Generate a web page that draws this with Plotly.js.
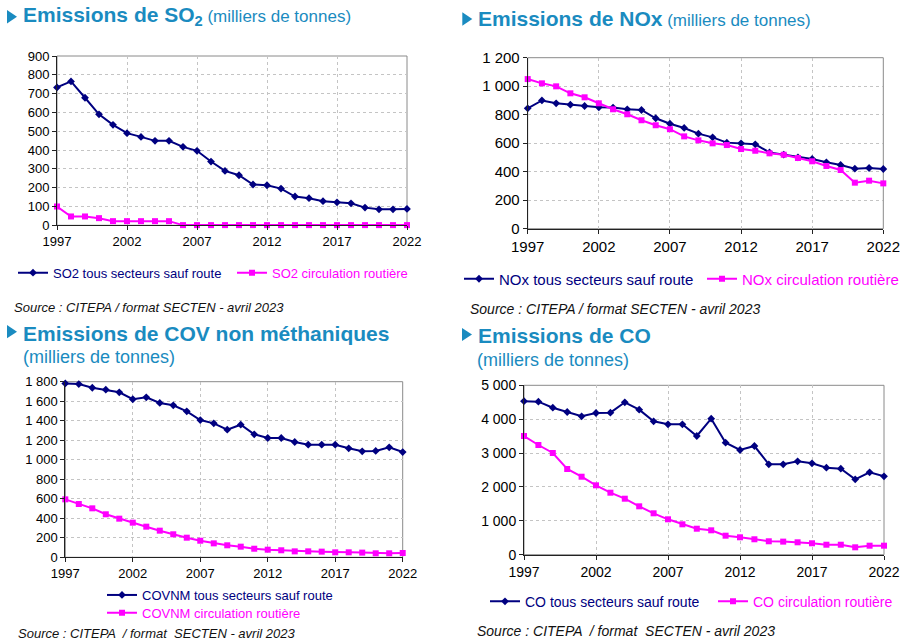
<!DOCTYPE html>
<html>
<head>
<meta charset="utf-8">
<script src="https://cdn.plot.ly/plotly-3.0.1.min.js"></script>
<style>html,body{margin:0;padding:0;background:#fff;}#chart{width:915px;height:643px;}</style>
</head>
<body>
<div id="chart"></div>
<script>
const years = [1997,1998,1999,2000,2001,2002,2003,2004,2005,2006,2007,2008,2009,2010,2011,2012,2013,2014,2015,2016,2017,2018,2019,2020,2021,2022];

const so2Other = [733,765,678,590,534,490,470,449,449,417,396,339,289,266,217,213,195,153,144,128,122,117,94,85,85,87];
const so2Road  = [100,47,47,38,22,22,22,22,22,1,1,1,1,1,1,1,1,1,1,1,1,1,1,1,1,1];

const noxOther = [845,900,880,870,861,852,850,838,833,775,737,707,667,641,604,599,592,535,520,501,489,466,447,421,426,419];
const noxRoad  = [1050,1020,999,950,922,880,838,803,761,726,698,648,620,599,587,559,547,529,519,496,473,440,412,323,337,318];

const covOther = [1782,1776,1738,1718,1691,1620,1640,1582,1558,1496,1407,1373,1308,1359,1261,1223,1223,1182,1154,1154,1154,1117,1086,1090,1127,1079];
const covRoad  = [594,546,502,441,396,355,314,273,236,201,170,143,123,109,88,78,72,61,61,58,51,51,48,41,41,44];

const coOther = [4530,4516,4339,4212,4085,4182,4192,4498,4280,3937,3849,3849,3504,4014,3306,3090,3208,2668,2668,2757,2698,2568,2538,2225,2432,2314];
const coRoad  = [3503,3238,3002,2530,2302,2048,1830,1653,1428,1222,1045,897,767,720,561,514,455,396,386,366,337,295,295,218,266,266];

const seriesNames = [
  ["SO2 tous secteurs sauf route","SO2 circulation routière"],
  ["NOx tous secteurs sauf route","NOx circulation routière"],
  ["COVNM tous secteurs sauf route","COVNM circulation routière"],
  ["CO tous secteurs sauf route","CO circulation routière"]
];
const yRanges = [[0,900],[0,1200],[0,1800],[0,5000]];
const yDticks = [100,200,200,1000];
const titles = ["Emissions de SO<sub>2</sub>","Emissions de NOx","Emissions de COV non méthaniques","Emissions de CO"];
const subtitle = "(milliers de tonnes)";
const sourceTexts = ["Source : CITEPA / format SECTEN - avril 2023","Source : CITEPA / format SECTEN - avril 2023","Source : CITEPA \u00a0/ format \u00a0SECTEN - avril 2023","Source : CITEPA \u00a0/ format \u00a0SECTEN - avril 2023"];

const W = 915, H = 643;
const px = v => v / W;
const py = v => 1 - v / H;

const NAVY = "#000080", MAG = "#ff00ff", TITLE = "#1a8bc0";
const FONT = "Arial, 'Liberation Sans', sans-serif";

// plot boxes in pixels [x0, x1, yTop, yBottom]
const boxes = [[57,407,56,225.3],[527.7,883.3,57.7,228.7],[65.3,402.7,381.7,557.3],[524,884,385.3,554.7]];
const fontSizes = [13,15,13,14];

const data = [];
const layout = {
  width: W, height: H, margin:{l:0,r:0,t:0,b:0},
  paper_bgcolor:"#fff", plot_bgcolor:"#fff",
  separators:", ",
  font:{family:FONT, color:"#000"},
  showlegend:true,
  shapes:[], annotations:[]
};

const seriesData = [[so2Other,so2Road],[noxOther,noxRoad],[covOther,covRoad],[coOther,coRoad]];

// legend positions [x, y] pixel (line start, center y)
const legendPos = [
  [[13,272.7],[232,272.7]],
  [[459,279],[702,279]],
  [[102,595],[102,612.7]],
  [[485,601.7],[713,601.7]]
];

for (let i=0;i<4;i++){
  const ax = i===0 ? "" : String(i+1);
  const b = boxes[i];
  const fs = fontSizes[i];
  layout["xaxis"+ax] = {
    domain:[px(b[0]),px(b[1])], anchor:"y"+ax,
    range:[1997,2022], tick0:1997, dtick:5, tickmode:"linear",
    showgrid:true, gridcolor:"#c4c4c4", griddash:"dot", gridwidth:1,
    showline:true, linecolor:"#222", linewidth:1,
    ticks:"outside", ticklen:4, tickcolor:"#222",
    zeroline:false, fixedrange:true,
    tickfont:{size:fs, family:FONT, color:"#000"}
  };
  layout["yaxis"+ax] = {
    domain:[py(b[3]),py(b[2])], anchor:"x"+ax,
    range:yRanges[i], dtick:yDticks[i], tick0:0, tickmode:"linear",
    separatethousands:true,
    showgrid:true, gridcolor:"#c4c4c4", griddash:"dot", gridwidth:1,
    showline:true, linecolor:"#222", linewidth:1,
    ticks:"outside", ticklen:4, tickcolor:"#222",
    zeroline:false, fixedrange:true,
    tickfont:{size:fs, family:FONT, color:"#000"}
  };
  // frame top/right
  layout.shapes.push({type:"rect", xref:"x"+ax+" domain", yref:"y"+ax+" domain", x0:0,x1:1,y0:0,y1:1, line:{color:"#8a8a8a", width:1}, layer:"below"});

  const colors=[NAVY,MAG], symbols=["diamond","square"], sizes=[6,6];
  for (let s=0;s<2;s++){
    const lg = "legend" + ((i*2+s)===0 ? "" : String(i*2+s+1));
    data.push({
      type:"scatter", mode:"lines+markers",
      x:years, y:seriesData[i][s], name:seriesNames[i][s],
      xaxis:"x"+ax, yaxis:"y"+ax, legend:lg, cliponaxis:false,
      line:{color:colors[s], width:2},
      marker:{color:colors[s], symbol:symbols[s], size:sizes[s]},
      hoverinfo:"x+y"
    });
    const lp = legendPos[i][s];
    layout[lg] = {
      x:px(lp[0]), y:py(lp[1]), xanchor:"left", yanchor:"middle",
      orientation:"h", bgcolor:"rgba(0,0,0,0)", borderwidth:0,
      font:{size:fs, family:FONT, color: s===0 ? NAVY : MAG},
      itemclick:false, itemdoubleclick:false
    };
  }
}

// titles
const titlePos = [[21,15.5],[476,19],[21,333],[476,335]];
const subPos = [null,null,[21,356.5],[475,359.5]];
const triPos = [[7,10,23.5],[462.3,12.3,25.7],[7,325,338.3],[462,328,341]];
for (let i=0;i<4;i++){
  let txt = "<b>"+titles[i]+"</b>";
  if (i<2) txt += "<span style='font-size:17px'> "+subtitle+"</span>";
  layout.annotations.push({xref:"paper", yref:"paper", x:px(titlePos[i][0]), y:py(titlePos[i][1]), xanchor:"left", yanchor:"middle", showarrow:false, text:txt, font:{size:21, family:FONT, color:TITLE}});
  if (subPos[i]) layout.annotations.push({xref:"paper", yref:"paper", x:px(subPos[i][0]), y:py(subPos[i][1]), xanchor:"left", yanchor:"middle", showarrow:false, text:subtitle, font:{size:18, family:FONT, color:TITLE}});
  const t = triPos[i];
  const cy = (t[1]+t[2])/2;
  layout.shapes.push({type:"path", xref:"paper", yref:"paper", path:`M${px(t[0])},${py(t[1])} L${px(t[0])},${py(t[2])} L${px(t[0]+10)},${py(cy)} Z`, fillcolor:TITLE, line:{width:0}});
}
const srcPos = [[12,307],[468,308.5],[16,633],[475,631]];
const srcSize = [13,14,13,14];
for (let i=0;i<4;i++){
  layout.annotations.push({xref:"paper", yref:"paper", x:px(srcPos[i][0]), y:py(srcPos[i][1]), xanchor:"left", yanchor:"middle", showarrow:false, text:"<i>"+sourceTexts[i]+"</i>", font:{size:srcSize[i], family:FONT, color:"#111"}});
}

Plotly.newPlot("chart", data, layout, {displayModeBar:false, staticPlot:false});
</script>
</body>
</html>
